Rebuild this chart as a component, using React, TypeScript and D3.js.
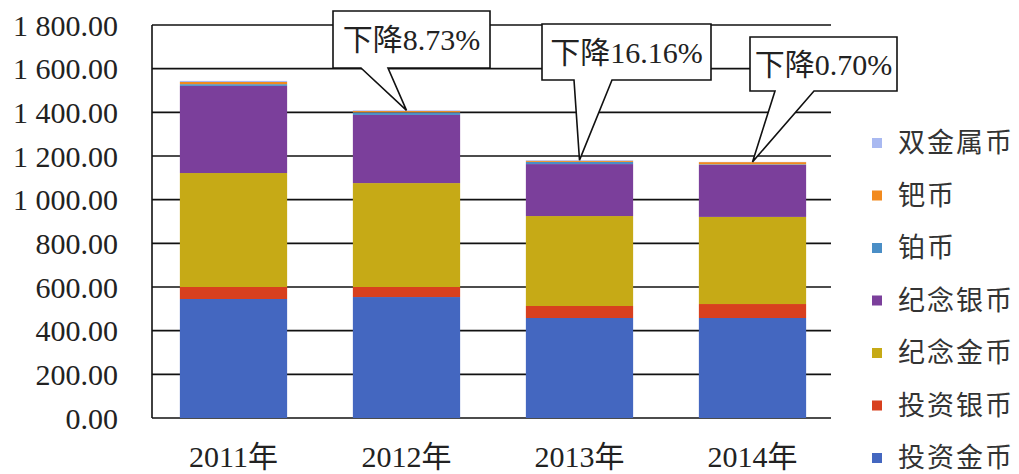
import React from 'react';
import * as d3 from 'd3';

const YEARS = ['2011年', '2012年', '2013年', '2014年'];
const SERIES = ['投资金币', '投资银币', '纪念金币', '纪念银币', '铂币', '钯币', '双金属币'];
const COLORS = ['#4467c0', '#d8401e', '#c6aa16', '#7b3f9b', '#4a8ec6', '#f28a1e', '#a9b9f1'];

// values per series, one per year (bottom to top of the stack)
const INVEST_GOLD = [545, 554, 458, 458];
const INVEST_SILVER = [55, 46, 55, 64];
const COMM_GOLD = [522, 476, 412, 399];
const COMM_SILVER = [399, 312, 238, 238];
const PLATINUM = [8, 12, 10, 3];
const PALLADIUM = [10, 6, 5, 10];
const BIMETAL = [5, 3, 3, 1];

const Y_TICKS = [0, 200, 400, 600, 800, 1000, 1200, 1400, 1600, 1800];
const DROPS = ['下降8.73%', '下降16.16%', '下降0.70%'];

const W = 1019;
const H = 474;
const SERIF = '"Liberation Serif", "Noto Sans CJK SC", serif';
const CJK = '"Noto Sans CJK SC", sans-serif';

// box placement for each callout (pointing at bars 2..4)
const BOXES = [
  { x0: 333, x1: 490, y0: 11, y1: 68, b0: 361, b1: 388 },
  { x0: 542, x1: 711, y0: 24, y1: 80, b0: 574, b1: 612 },
  { x0: 750, x1: 897, y0: 37, y1: 91, b0: 775, b1: 814 },
];

export default function App() {
  const cols = [INVEST_GOLD, INVEST_SILVER, COMM_GOLD, COMM_SILVER, PLATINUM, PALLADIUM, BIMETAL];
  const rows = YEARS.map((year, i) => {
    const r: Record<string, any> = { year };
    SERIES.forEach((s, k) => (r[s] = cols[k][i]));
    return r;
  });
  const stacked = d3.stack<any>().keys(SERIES)(rows);

  const x = d3.scaleBand().domain(YEARS).range([147, 839]).paddingInner(0.38).paddingOuter(0.19);
  const y = d3.scaleLinear().domain([0, 1800]).range([418, 25]);
  const gridX0 = 152;
  const gridX1 = 831;

  const totals = rows.map((r) => d3.sum(SERIES, (s) => r[s] as number));

  return (
    <svg width={W} height={H} style={{ position: 'absolute', left: 0, top: 0, background: '#fff' }}>
      {Y_TICKS.map((t) => (
        <g key={t}>
          <line x1={gridX0} x2={gridX1} y1={y(t)} y2={y(t)} stroke="#111" strokeWidth={1.6} />
          <text x={118} y={y(t)} dy="0.35em" textAnchor="end" fontFamily={SERIF} fontSize={30} fill="#222">
            {t >= 1000 ? `${Math.floor(t / 1000)} ${d3.format('03d')(t % 1000)}.00` : `${t}.00`}
          </text>
        </g>
      ))}
      <line x1={gridX0} x2={gridX0} y1={y(1800)} y2={y(0)} stroke="#111" strokeWidth={1.6} />

      {stacked.map((layer, k) => (
        <g key={SERIES[k]} fill={COLORS[k]}>
          {layer.map((d, i) => (
            <rect
              key={i}
              x={x(YEARS[i])!}
              width={x.bandwidth()}
              y={y(d[1])}
              height={Math.max(0, y(d[0]) - y(d[1]))}
            />
          ))}
        </g>
      ))}

      {YEARS.map((yr) => (
        <text key={yr} x={x(yr)! + x.bandwidth() / 2} y={456} dy="0.35em" textAnchor="middle" fontFamily={SERIF} fontSize={30} fill="#222">
          {yr}
        </text>
      ))}

      {DROPS.map((label, i) => {
        const b = BOXES[i];
        const tipX = x(YEARS[i + 1])! + x.bandwidth() / 2;
        const tipY = y(totals[i + 1]);
        const path = `M${b.x0},${b.y0}H${b.x1}V${b.y1}H${b.b1}L${tipX},${tipY}L${b.b0},${b.y1}H${b.x0}Z`;
        return (
          <g key={label}>
            <path d={path} fill="#fff" stroke="#111" strokeWidth={1.6} />
            <text x={(b.x0 + b.x1) / 2} y={(b.y0 + b.y1) / 2} dy="0.35em" textAnchor="middle" fontFamily={SERIF} fontSize={30} fill="#222">
              {label}
            </text>
          </g>
        );
      })}

      {SERIES.slice().reverse().map((s, j) => {
        const k = SERIES.length - 1 - j;
        const cy = 143 + j * 52.5;
        return (
          <g key={s}>
            <rect x={872} y={cy - 5} width={10} height={10} fill={COLORS[k]} />
            <text x={898} y={cy} dy="0.35em" fontFamily={CJK} fontSize={27} letterSpacing={2} fill="#333">
              {s}
            </text>
          </g>
        );
      })}
    </svg>
  );
}
